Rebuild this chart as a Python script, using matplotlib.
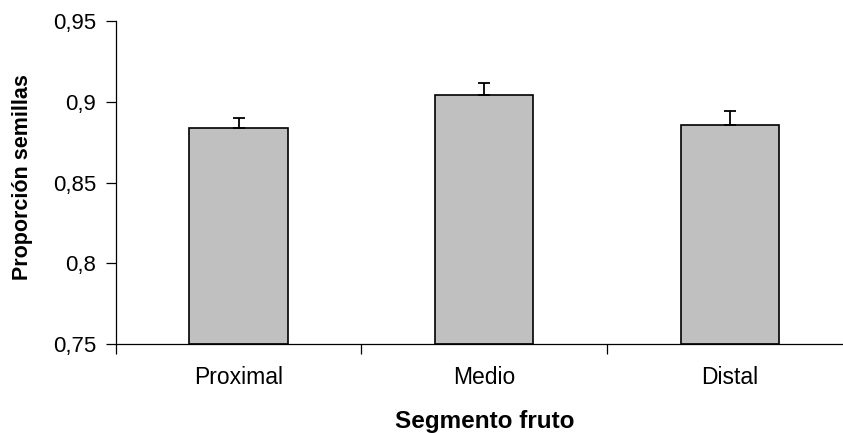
import matplotlib
matplotlib.use('Agg')
import matplotlib.pyplot as plt
import numpy as np

# data
segmentos = ['Proximal', 'Medio', 'Distal']
proporcion = [0.8836, 0.9043, 0.8859]
error_sup = [0.0066, 0.0074, 0.0085]
yticks = [0.75, 0.8, 0.85, 0.9, 0.95]
ytick_labels = ['0,75', '0,8', '0,85', '0,9', '0,95']

plt.rcParams['font.family'] = ['Liberation Sans', 'DejaVu Sans']

fig = plt.figure(figsize=(8.43, 4.33), dpi=100)
ax = fig.add_axes([115.6 / 843, 1 - 343.7 / 433, (853 - 115.6) / 843, (343.7 - 21.3) / 433])

x = np.arange(len(segmentos))
base = 0.75
alturas = [p - base for p in proporcion]
ax.bar(x, alturas, width=0.4, bottom=base, color='#c0c0c0', edgecolor='black',
       linewidth=1.2, zorder=2)
ax.errorbar(x, proporcion, yerr=[[0] * len(x), error_sup], fmt='none',
            ecolor='black', elinewidth=1.3, capsize=4.5, capthick=1.3, zorder=3)

ax.set_xlim(-0.5, len(segmentos) - 0.5)
ax.set_ylim(0.75, 0.95)
ax.set_yticks(yticks)
ax.set_yticklabels(ytick_labels, fontsize=16)

# ticks on category borders, labels in the middle
ax.set_xticks(np.arange(len(segmentos) + 1) - 0.5)
ax.set_xticklabels([])
ax.set_xticks(x, minor=True)
ax.set_xticklabels(segmentos, minor=True, fontsize=16.5)
ax.tick_params(axis='x', which='major', direction='out', length=7, width=0.9)
ax.tick_params(axis='x', which='minor', length=0, pad=16)
ax.tick_params(axis='y', direction='out', length=7, width=0.9, pad=7)

for s in ['top', 'right']:
    ax.spines[s].set_visible(False)
for s in ['left', 'bottom']:
    ax.spines[s].set_linewidth(0.9)

ax.set_xlabel('Segmento fruto', fontsize=17.5, fontweight='bold', labelpad=15)
ax.set_ylabel('Proporción semillas', fontsize=15.5, fontweight='bold')
ax.yaxis.set_label_coords(-0.112, 0.517)

fig.savefig('out.png', dpi=100)
